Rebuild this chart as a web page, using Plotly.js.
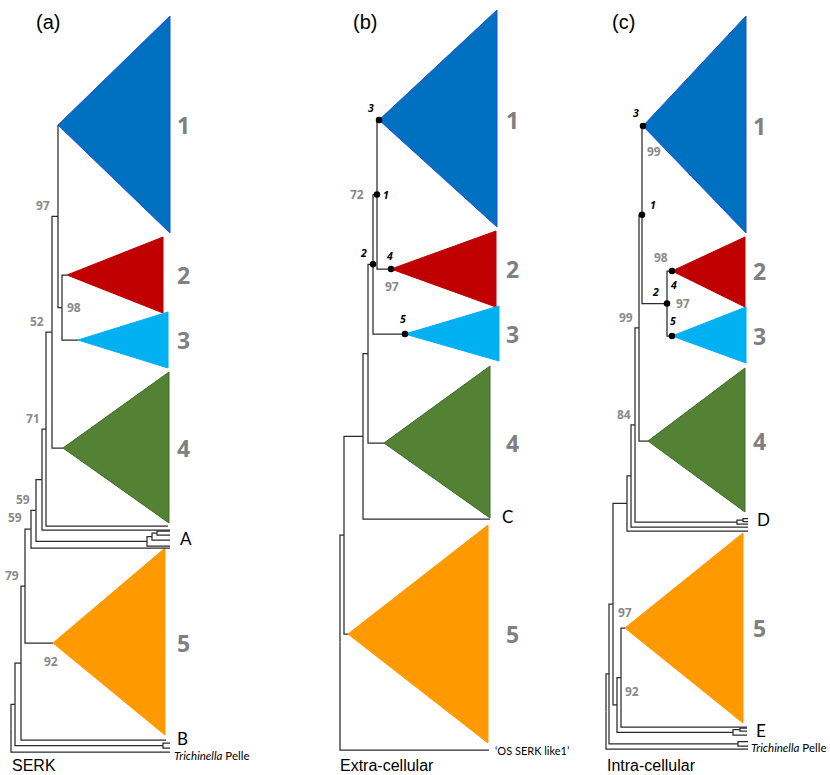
<!DOCTYPE html>
<html><head><meta charset="utf-8">
<script src="https://cdn.plot.ly/plotly-3.0.1.min.js"></script>
<style>html,body{margin:0;padding:0;background:#fff}#chart{width:830px;height:775px}</style>
</head><body><div id="chart"></div>
<script>
// ================= DATA =================
// Tree topology per panel: node id, parent id, branch depth, leaf order position (internal nodes: null -> midpoint of children)
// Panel (a) SERK
const aNode   = ['R','Lt','N15','N21','TB','t1','t2','N26','B','O','N31','N36','L548','N42','Abr','Ab1','Ab2','a1','a2','a3','a4','N46','L529','N52','L526','N58','G','Bl','N62','Rd','Cy'];
const aParent = [null,'R','R','N15','N15','TB','TB','N21','N21','N26','N26','N31','N31','N36','N36','Abr','Ab1','Ab2','Ab2','Ab1','Abr','N42','N42','N46','N46','N52','N52','N58','N58','N62','N62'];
const aDepth  = [11,170,15,21,163,170,170,25,166,53,31,36,170,42,147,152,157,170,170,170,170,46,170,52,168,58,63,58,62,67,78];
const aLeafY  = [null,752,null,null,null,743,748,null,740,643,null,null,548,null,null,null,null,531,535,540,546,null,530,null,526,null,448,125,null,275,340];

// Panel (b) Extra-cellular
const bNode   = ['R','OS','N344','O','N363','C','N368','G','N373','Cy','N377','Bl','Rd'];
const bParent = [null,'R','R','N344','N344','N363','N363','N368','N368','N373','N373','N377','N377'];
const bDepth  = [340,489,344,348,363,490,368,384,373,405,377,379,391];
const bLeafY  = [null,750,null,634,null,519,null,443,null,334,null,120,269];

// Panel (c) Intra-cellular
const cNode   = ['R','Lt','N609','TB','t1','t2','N613','N627','N617','N621','Ebr','Eb1','e1','e2','e3','O','L727','N631','L531','N635','L528','N639','Dbr','d1','d2','d3','d4','N642','G','Bl','N667','Rd','Cy'];
const cParent = [null,'R','R','N609','TB','TB','N609','N613','N613','N617','N617','Ebr','Eb1','Eb1','Ebr','N621','N621','N627','N627','N631','N631','N635','N635','Dbr','d1','d1','Dbr','N639','N639','N642','N642','N667','N667'];
const cDepth  = [606,748,609,738,748,748,613,627,617,621,733,740,747,747,747,625,747,631,748,635,748,639,737,743,748,748,748,642,648,643,667,672,672];
const cLeafY  = [null,749,null,null,741.5,746,null,null,null,null,null,null,728,731,735,628,727,null,531,null,527,null,null,null,518.5,521.5,524,null,441,126,null,271,336];

// Collapsed clades (triangles): apex node, upper edge, lower edge, tip depth
const cladeLabels = ['1','2','3','4','5'];
const cladeNodes  = ['Bl','Rd','Cy','G','O'];
const aCladeTop = [16,237,312,372,548],  aCladeBottom = [233,313,368,523,735], aCladeTip = [170,163,168,169,165];
const bCladeTop = [10,231,306,366,525],  bCladeBottom = [227,307,361,518,743], bCladeTip = [497,496,499,490,488];
const cCladeTop = [16,237,307,368,533],  cCladeBottom = [233,307,363,512,723], cCladeTip = [746,745,746,745,743];

// Bootstrap values
const aBootNode = ['N58','N62','N52','N46','N36','N31','N26','O'];
const aBootText = ['97','98','52','71','59','59','79','92'];
const bBootNode = ['N377','Rd'];
const bBootText = ['72','97'];
const cBootNode = ['Bl','Rd','N667','N639','N635','O','N621'];
const cBootText = ['99','98','97','99','84','97','92'];

// Marked nodes (dots with italic numbers)
const bMarkNode = ['Bl','N377','N373','Rd','Cy'];
const bMarkText = ['3','1','2','4','5'];
const cMarkNode = ['Bl','N642','N667','Rd','Cy'];
const cMarkText = ['3','1','2','4','5'];

// Tip labels
const aTipNode = ['a3','B','Lt'];
const aTipText = ['A','B','<i>Trichinella</i> Pelle'];
const bTipNode = ['C','OS'];
const bTipText = ['C','\u2018OS SERK like1\u2019'];
const cTipNode = ['d3','e2','t2'];
const cTipText = ['D','E','<i>Trichinella</i> Pelle'];

// Panel captions
const panelTags   = ['(a)','(b)','(c)'];
const panelTitles = ['SERK','Extra-cellular','Intra-cellular'];

// ================= STYLE =================
const cladeFill = ['#0070C0','#C00000','#00B0F0','#548235','#FF9900'];
const cladeEdge = ['#1F4FD6','#C00000','#00B0F0','#3E6A27','#FF9900'];
const lineColor = '#2b2b2b';
const bootColor = '#8A8A8A';
const boldFamily = 'Open Sans';
// placement of bootstrap labels: [xref-mode, xanchor, yanchor, xshift, yshift]
const aBootPlace = [['p','right','bottom',0,0],['n','left','middle',3,0],['p','right','bottom',0,0],['p','right','bottom',0,0],['p','right','bottom',1,0],['p','right','bottom',-1,1],['p','right','bottom',0,0],['n','center','top',-2,-8]];
const bBootPlace = [['p','right','middle',-7,0],['n','center','top',1,-7]];
const cBootPlace = [['n','left','top',2,-15],['n','right','bottom',-2,3],['n','left','middle',7,0],['p','right','bottom',0,0],['p','right','bottom',2,0],['n','center','bottom',0,5],['n','left','top',2,-3]];
const bMarkPlace = [['right','bottom',-3,3],['left','middle',4,0],['right','bottom',-4,2],['center','bottom',-2,4],['center','bottom',-2,6]];
const cMarkPlace = [['right','bottom',-2,4],['left','bottom',6,1],['right','bottom',-6,3],['center','top',1,-5],['center','bottom',1,6]];
const aTipPlace = [[8,2,17,'Lato'],[9,2,17,'Lato'],[2,-3,11.5,'Lato']];
const bTipPlace = [[10,3,17,'Lato'],[4,0,11,'Lato']];
const cTipPlace = [[7,2,17,'Lato'],[7,1,17,'Lato'],[1,-1,11.5,'Lato']];
const tagPos   = [[48,22],[365,22],[623,22]];
const titlePos = [[10,765],[338,765],[605,765]];

// ================= BUILD =================
function buildTree(ids, parents, depth, leafY) {
  const n = {};
  ids.forEach((id,i)=>{ n[id] = {id, parent: parents[i], x: depth[i], y: leafY[i], children: []}; });
  ids.forEach(id=>{ const p = n[id].parent; if (p) n[p].children.push(n[id]); });
  function fy(node){
    if (!node.children.length) return node.y;
    const ys = node.children.map(fy);
    node.y = (Math.min(...ys) + Math.max(...ys)) / 2;
    return node.y;
  }
  ids.forEach(id=>{ if (!n[id].parent) fy(n[id]); });
  return n;
}

const panels = [
  {tree: buildTree(aNode,aParent,aDepth,aLeafY), top:aCladeTop, bot:aCladeBottom, tip:aCladeTip,
   boot:[aBootNode,aBootText,aBootPlace], mark:null, tips:[aTipNode,aTipText,aTipPlace]},
  {tree: buildTree(bNode,bParent,bDepth,bLeafY), top:bCladeTop, bot:bCladeBottom, tip:bCladeTip,
   boot:[bBootNode,bBootText,bBootPlace], mark:[bMarkNode,bMarkText,bMarkPlace], tips:[bTipNode,bTipText,bTipPlace]},
  {tree: buildTree(cNode,cParent,cDepth,cLeafY), top:cCladeTop, bot:cCladeBottom, tip:cCladeTip,
   boot:[cBootNode,cBootText,cBootPlace], mark:[cMarkNode,cMarkText,cMarkPlace], tips:[cTipNode,cTipText,cTipPlace]}
];

const traces = [];
const annotations = [];

panels.forEach((P, pi) => {
  const T = P.tree;
  // clade triangles
  cladeNodes.forEach((id, k) => {
    const a = T[id];
    traces.push({type:'scatter', mode:'lines', x:[a.x, P.tip[k], P.tip[k], a.x], y:[a.y, P.top[k], P.bot[k], a.y],
      fill:'toself', fillcolor: cladeFill[k], line:{color: cladeEdge[k], width: 1}, hoverinfo:'skip', showlegend:false});
    annotations.push({x: Math.max(...P.tip), y: a.y, xref:'x', yref:'y', text: '<b>' + cladeLabels[k] + '</b>', showarrow:false,
      xanchor:'left', yanchor:'middle', xshift: 5, font:{family: boldFamily, size:23, color:'#808080'}});
  });
  // branches
  const xs = [], ys = [];
  Object.values(T).forEach(nd => {
    if (!nd.parent) return;
    const p = T[nd.parent];
    xs.push(p.x, p.x, nd.x, null); ys.push(p.y, nd.y, nd.y, null);
  });
  traces.push({type:'scatter', mode:'lines', x:xs, y:ys, line:{color: lineColor, width: 1.25}, hoverinfo:'skip', showlegend:false});
  // bootstrap labels
  const [bn, bt, bp] = P.boot;
  bn.forEach((id, i) => {
    const nd = T[id], pl = bp[i];
    const x = pl[0] === 'p' ? T[nd.parent].x : nd.x;
    annotations.push({x, y: nd.y, xref:'x', yref:'y', text: '<b>' + bt[i] + '</b>', showarrow:false, xanchor: pl[1], yanchor: pl[2],
      xshift: pl[3], yshift: pl[4], font:{family: boldFamily, size:12, color: bootColor}});
  });
  // marked nodes
  if (P.mark) {
    const [mn, mt, mp] = P.mark;
    traces.push({type:'scatter', mode:'markers', x: mn.map(id=>T[id].x), y: mn.map(id=>T[id].y),
      marker:{color:'#000', size:6.5}, hoverinfo:'skip', showlegend:false});
    mn.forEach((id, i) => {
      const pl = mp[i];
      annotations.push({x: T[id].x, y: T[id].y, xref:'x', yref:'y', text: '<b><i>' + mt[i] + '</i></b>', showarrow:false, xanchor: pl[0], yanchor: pl[1],
        xshift: pl[2], yshift: pl[3], font:{family: boldFamily, size:10.5, color:'#000'}});
    });
  }
  // tip labels
  const [tn, tt, tp] = P.tips;
  tn.forEach((id, i) => {
    const nd = T[id], pl = tp[i];
    annotations.push({x: nd.x, y: nd.y, xref:'x', yref:'y', text: tt[i], showarrow:false, xanchor:'left', yanchor:'middle',
      xshift: pl[0], yshift: pl[1], font:{family: pl[3], size: pl[2], color:'#000'}});
  });
  // captions
  annotations.push({x: tagPos[pi][0], y: tagPos[pi][1], xref:'x', yref:'y', text: panelTags[pi], showarrow:false,
    xanchor:'center', yanchor:'middle', font:{family:'Liberation Sans', size:20, color:'#000'}});
  annotations.push({x: titlePos[pi][0], y: titlePos[pi][1], xref:'x', yref:'y', text: panelTitles[pi], showarrow:false,
    xanchor:'left', yanchor:'middle', font:{family:'Liberation Sans', size:16, color:'#000'}});
});

const layout = {
  width: 830, height: 775, margin:{l:0,r:0,t:0,b:0},
  paper_bgcolor:'#fff', plot_bgcolor:'#fff',
  xaxis:{range:[0,830], visible:false, fixedrange:true},
  yaxis:{range:[775,0], visible:false, fixedrange:true},
  annotations, showlegend:false
};
Plotly.newPlot('chart', traces, layout, {staticPlot:true, displayModeBar:false});
</script></body></html>
